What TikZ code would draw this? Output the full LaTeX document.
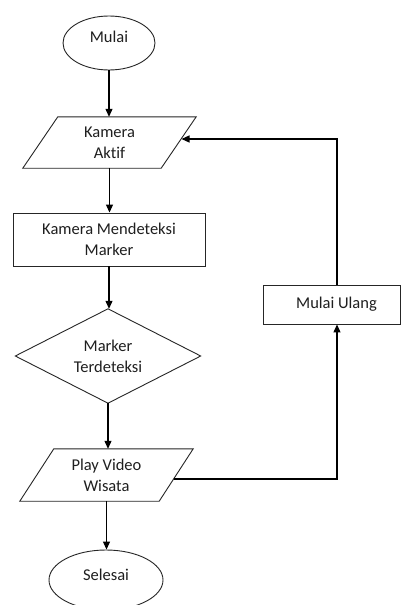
\documentclass[tikz,border=0pt]{standalone}
\usepackage{fontspec}
\setmainfont{Carlito}[Ligatures=NoCommon]
\usetikzlibrary{arrows.meta,calc,shapes.geometric}
\begin{document}
\begin{tikzpicture}[x=1pt,y=-1pt,
  txt/.style={font=\fontsize{16.5}{21}\selectfont, text=black!88, align=center, inner sep=0pt},
  outline/.style={draw=black!85, line width=0.9pt},
  ell/.style={outline, ellipse, inner sep=0pt},
  boxn/.style={outline, rectangle, inner sep=0pt},
  hold/.style={rectangle, inner sep=0pt},
  arr/.style={draw=black, line width=1.1pt, -{Triangle[length=8pt,width=7pt]}}
]
\fill[white] (0,0) rectangle (401,605);
\useasboundingbox (0,0) rectangle (401,605);

% Start
\node[ell, minimum width=92pt, minimum height=54pt,
      label={[txt, yshift=6pt]center:Mulai}] (start) at (109,43) {};

% Kamera Aktif (parallelogram)
\node[txt, hold, minimum width=173pt, minimum height=51pt] (ka) at (109.5,142.5) {Kamera\\Aktif};
\draw[outline] ($(ka.north west)+(35,0)$) -- (ka.north east)
  -- ($(ka.south east)+(-35,0)$) -- (ka.south west) -- cycle;

% Kamera Mendeteksi Marker
\node[txt, boxn, minimum width=192pt, minimum height=53pt] (kmd) at (109,239.5) {Kamera Mendeteksi\\Marker};

% Diamond
\node[txt, hold, minimum width=185pt, minimum height=94pt] (dm) at (108,356) {Marker\\Terdeteksi};
\draw[outline] (dm.north) -- (dm.east) -- (dm.south) -- (dm.west) -- cycle;

% Play Video Wisata (parallelogram)
\node[txt, hold, minimum width=173pt, minimum height=52pt] (pv) at (106.5,475) {Play Video\\Wisata};
\draw[outline] ($(pv.north west)+(34,0)$) -- (pv.north east)
  -- ($(pv.south east)+(-34,0)$) -- (pv.south west) -- cycle;

% End
\node[ell, minimum width=114pt, minimum height=60pt,
      label={[txt, yshift=5pt]center:Selesai}] (stop) at (106,580) {};

% Mulai Ulang
\node[txt, boxn, minimum width=137pt, minimum height=39pt] (mu) at (331.5,304.5) {\hspace*{10pt}Mulai Ulang};

% Main flow
\draw[arr] (start.south) -- (start.south |- ka.north);
\draw[arr] (ka.south) -- (ka.south |- kmd.north);
\draw[arr] (kmd.south) -- (kmd.south |- dm.north);
\draw[arr] (dm.south) -- (dm.south |- pv.north);
\draw[arr] (pv.south) -- (pv.south |- stop.north);

% Loop
\coordinate (pvR) at (173.5,479);
\coordinate (kaR) at (181.5,139);
\draw[arr] (pvR) -| ($(mu.south)+(5.5,0)$);
\draw[arr] ($(mu.north)+(5.5,0)$) |- (kaR);
\end{tikzpicture}
\end{document}
